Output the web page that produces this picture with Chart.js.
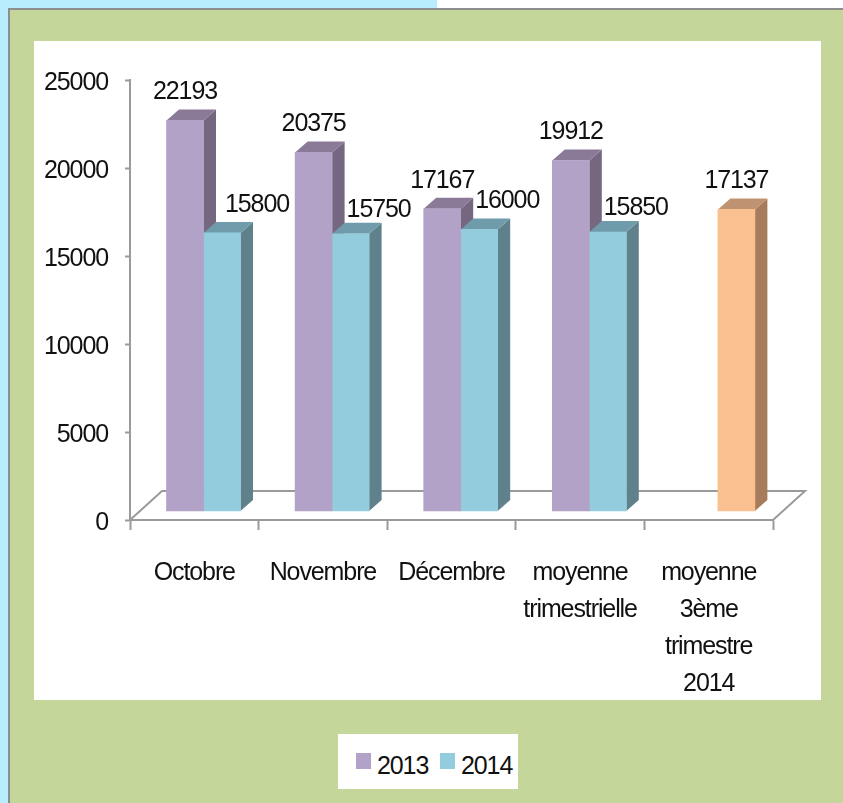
<!DOCTYPE html>
<html lang="fr">
<head>
<meta charset="utf-8">
<title>Moyenne trimestrielle</title>
<style>
    html, body { margin: 0; padding: 0; background: #fff; }
    body { width: 843px; height: 803px; position: relative; overflow: hidden; font-family: 'Liberation Sans', sans-serif; }
    .blue-top  { position: absolute; left: 0; top: 0; width: 437px; height: 8px; background: #b6ecfb; }
    .blue-left { position: absolute; left: 0; top: 0; width: 8px; height: 803px; background: #b6ecfb; }
    .panel     { position: absolute; left: 8px; top: 8px; width: 835px; height: 795px; box-sizing: border-box; background: #c5d69b; border-left: 2px solid #8e8e8e; border-top: 2px solid #8e8e8e; }
    .plot-bg   { position: absolute; left: 34px; top: 41px; width: 787px; height: 659px; background: #fff; }
    #chart     { position: absolute; left: 0; top: 0; }
    #legend    { position: absolute; left: 338px; top: 734px; width: 180px; height: 55px; background: #fff; font-size: 25px; letter-spacing: -1.1px; color: #111; }
    #legend i  { position: absolute; top: 19px; width: 15px; height: 16px; }
    #legend span { position: absolute; top: 15px; line-height: 32px; }
</style>
</head>
<body>
<div class="blue-top"></div>
<div class="blue-left"></div>
<div class="panel"></div>
<div class="plot-bg"></div>
<canvas id="chart" width="843" height="803"></canvas>
<div id="legend"></div>

<script src="https://cdn.jsdelivr.net/npm/chart.js@4"></script>
<script>
const categories = ['Octobre', 'Novembre', 'Décembre', ['moyenne', 'trimestrielle'], ['moyenne', '3ème', 'trimestre', '2014']];
const values2013 = [22193, 20375, 17167, 19912, null];
const values2014 = [15800, 15750, 16000, 15850, 17137];
const seriesNames = ['2013', '2014'];
const yTicks = [0, 5000, 10000, 15000, 20000, 25000];

const fontFamily = "'Liberation Sans', sans-serif";
const fontSize = 25;
const textSqueeze = '-1.1px'; // no narrow font here, tighten the spacing instead
const lineGrey = '#9a9a9a';

const front2013 = '#b2a2c7', side2013 = '#75677f', top2013 = '#8b7a97';
const front2014 = '#93cddd', side2014 = '#5f818c', top2014 = '#6f9bab';
const frontOrange = '#fac090', sideOrange = '#a67c5c', topOrange = '#bf9372';

// fake 3d depth of the bars and of the floor, in pixels
const depthX = 12.5, depthY = 11;
const floorX = 32, floorY = 29;
// bars stand in the middle of the floor, so they sit off the printed axes
const barShiftX = 0.5715, barShiftY = 511;

function faceColors(datasetIndex, index) {
    if (datasetIndex === 0) return [side2013, top2013];
    return index === 4 ? [sideOrange, topOrange] : [side2014, top2014];
}

const depthPlugin = {
    id: 'depth',
    beforeDraw(chart) {
        chart.ctx.letterSpacing = textSqueeze;
    },
    beforeDatasetsDraw(chart) {
        const ctx = chart.ctx;
        const area = chart.chartArea;

        // floor, back and side edges
        ctx.save();
        ctx.strokeStyle = lineGrey;
        ctx.lineWidth = 2;
        ctx.beginPath();
        ctx.moveTo(area.left, area.bottom);
        ctx.lineTo(area.left + floorX, area.bottom - floorY);
        ctx.lineTo(area.right + floorX, area.bottom - floorY);
        ctx.lineTo(area.right, area.bottom);
        ctx.stroke();

        // side and top faces, the library paints the front face over them
        chart.data.datasets.forEach(function (ds, di) {
            chart.getDatasetMeta(di).data.forEach(function (bar, i) {
                if (ds.data[i].y === null) return;
                const p = bar.getProps(['x', 'y', 'base', 'width']);
                const l = p.x - p.width / 2, r = p.x + p.width / 2;
                const colors = faceColors(di, i);

                ctx.fillStyle = colors[0];
                ctx.beginPath();
                ctx.moveTo(r, p.y);
                ctx.lineTo(r + depthX, p.y - depthY);
                ctx.lineTo(r + depthX, p.base - depthY);
                ctx.lineTo(r, p.base);
                ctx.closePath();
                ctx.fill();

                ctx.fillStyle = colors[1];
                ctx.beginPath();
                ctx.moveTo(l, p.y);
                ctx.lineTo(l + depthX, p.y - depthY);
                ctx.lineTo(r + depthX, p.y - depthY);
                ctx.lineTo(r, p.y);
                ctx.closePath();
                ctx.fill();
            });
        });
        ctx.restore();
    },
    afterDatasetsDraw(chart) {
        const ctx = chart.ctx;
        ctx.save();
        ctx.font = fontSize + 'px ' + fontFamily;
        ctx.fillStyle = '#111';
        ctx.textAlign = 'center';
        ctx.textBaseline = 'middle';
        chart.data.datasets.forEach(function (ds, di) {
            chart.getDatasetMeta(di).data.forEach(function (bar, i) {
                const v = ds.data[i].y;
                if (v === null) return;
                // 2014 labels are pushed right of the 2013 bar, except the lone last one
                let dx = 0, dy = -28;
                if (di === 1 && i < 4) dx = i === 0 ? 35 : 28;
                if (di === 1 && (i === 1 || i === 3)) dy = -24;
                ctx.fillText(String(v), bar.x + dx, bar.y + dy);
            });
        });
        ctx.restore();
    }
};

function toPoints(values) {
    return values.map(function (v, i) { return { x: i, y: v }; });
}

new Chart(document.getElementById('chart'), {
    type: 'bar',
    data: {
        labels: categories,
        datasets: [
            {
                label: seriesNames[0],
                data: toPoints(values2013),
                backgroundColor: front2013,
                xAxisID: 'xBars',
                yAxisID: 'yBars',
            },
            {
                label: seriesNames[1],
                data: toPoints(values2014),
                backgroundColor: [front2014, front2014, front2014, front2014, frontOrange],
                xAxisID: 'xBars',
                yAxisID: 'yBars',
            }
        ]
    },
    options: {
        responsive: false,
        animation: false,
        barThickness: 37,
        layout: { autoPadding: false, padding: { top: 80, right: 70, left: 0, bottom: 0 } },
        plugins: {
            legend: { display: false },
            tooltip: { enabled: false }
        },
        scales: {
            x: {
                type: 'category',
                offset: true,
                afterFit(scale) { scale.height = 283; },
                border: { color: lineGrey, width: 2 },
                grid: { color: lineGrey, drawOnChartArea: false, tickLength: 10, tickWidth: 2 },
                ticks: {
                    color: '#111',
                    padding: 25,
                    maxRotation: 0,
                    autoSkip: false,
                    font: { family: fontFamily, size: fontSize, lineHeight: 1.48 }
                }
            },
            y: {
                type: 'linear',
                min: yTicks[0],
                max: yTicks[yTicks.length - 1],
                afterFit(scale) { scale.width = 130; },
                afterBuildTicks(scale) { scale.ticks = yTicks.map(function (v) { return { value: v }; }); },
                border: { color: lineGrey, width: 2 },
                grid: { color: lineGrey, drawOnChartArea: false, tickLength: 5, tickWidth: 2 },
                ticks: {
                    color: '#111',
                    padding: 17,
                    labelOffset: 3,
                    callback: function (v) { return String(v); },
                    font: { family: fontFamily, size: fontSize }
                }
            },
            xBars: { type: 'linear', display: false, offset: false, min: -barShiftX, max: 5 - barShiftX },
            yBars: { type: 'linear', display: false, min: -barShiftY, max: 25000 - barShiftY }
        }
    },
    plugins: [depthPlugin]
});

// html legend, the native one can't get the swatch this close to the text
const legendSlots = [18, 102];
const legendColors = [front2013, front2014];
seriesNames.forEach(function (name, i) {
    const box = document.createElement('i');
    box.style.left = legendSlots[i] + 'px';
    box.style.background = legendColors[i];
    const text = document.createElement('span');
    text.style.left = (legendSlots[i] + 21) + 'px';
    text.textContent = name;
    document.getElementById('legend').append(box, text);
});
</script>
</body>
</html>
